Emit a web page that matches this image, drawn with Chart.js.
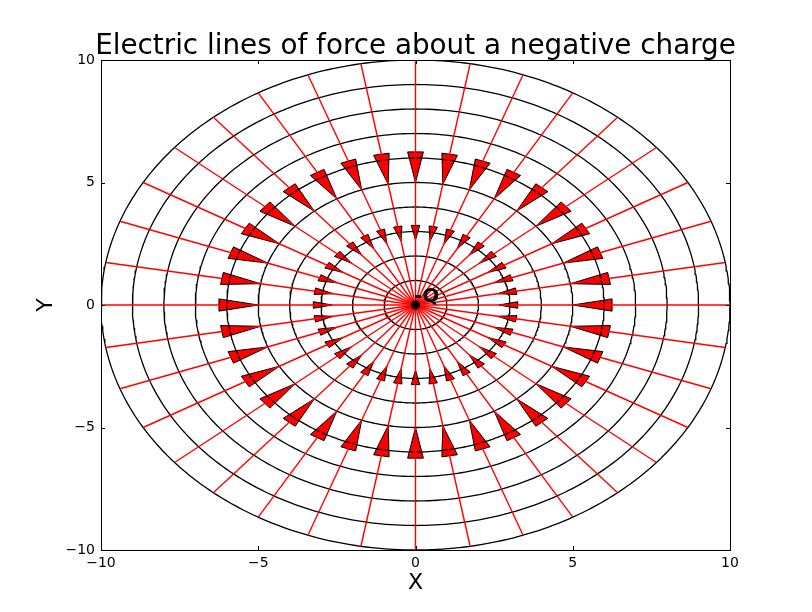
<!DOCTYPE html>
<html>
<head>
<meta charset="utf-8">
<script src="https://cdn.jsdelivr.net/npm/chart.js@4/dist/chart.umd.min.js"></script>
<style>
  body { margin: 0; background: #ffffff; }
  #myCanvas { display: block; }
</style>
</head>
<body>
<canvas id="myCanvas" width="812" height="612"></canvas>
<script>
// radii of the equipotential circles
var circleRadii = [1, 2, 3, 4, 5, 6, 7, 8, 9, 10];
// directions of the lines of force, in degrees
var lineAngles = [0, 10, 20, 30, 40, 50, 60, 70, 80, 90, 100, 110, 120, 130, 140, 150, 160, 170,
  180, 190, 200, 210, 220, 230, 240, 250, 260, 270, 280, 290, 300, 310, 320, 330, 340, 350];
// arrow heads: tip radius and head length (small ring, big ring)
var arrowTips = [2.65, 5.0];
var arrowLengths = [0.6, 1.25];
var arrowWidths = [0.27, 0.5];
var tickValues = [-10, -5, 0, 5, 10];
// lines of force run out to the last circle
var lineEnd = 10;

var fontName = "'DejaVu Sans', sans-serif";

function rad(deg) {
  return deg * Math.PI / 180;
}

var datasets = [];

// the charge itself
datasets.push({
  data: [{ x: 0, y: 0 }],
  pointRadius: 4.5,
  pointBackgroundColor: "#000000",
  pointBorderWidth: 0,
  showLine: false,
  order: 0
});

// lines of force
for (var i = 0; i < lineAngles.length; i++) {
  var a = rad(lineAngles[i]);
  datasets.push({
    data: [{ x: 0, y: 0 }, { x: lineEnd * Math.cos(a), y: lineEnd * Math.sin(a) }],
    borderColor: "#ff0000",
    borderWidth: 1.4,
    pointRadius: 0,
    showLine: true,
    order: 1
  });
}

// circles
for (var j = 0; j < circleRadii.length; j++) {
  var pts = [];
  for (var d = 0; d <= 360; d += 1) {
    pts.push({ x: circleRadii[j] * Math.cos(rad(d)), y: circleRadii[j] * Math.sin(rad(d)) });
  }
  datasets.push({
    data: pts,
    borderColor: "#000000",
    borderWidth: 1.3,
    pointRadius: 0,
    showLine: true,
    tension: 0,
    order: 2
  });
}

var arrowPlugin = {
  id: "arrows",
  beforeDatasetsDraw: function (chart) {
    var ctx = chart.ctx;
    var xs = chart.scales.x;
    var ys = chart.scales.y;
    ctx.save();
    ctx.fillStyle = "#ff0000";
    ctx.strokeStyle = "#000000";
    ctx.lineWidth = 1;
    ctx.lineJoin = "miter";
    for (var k = 0; k < arrowTips.length; k++) {
      for (var i = 0; i < lineAngles.length; i++) {
        var a = rad(lineAngles[i]);
        var c = Math.cos(a), s = Math.sin(a);
        var tip = arrowTips[k];
        var base = tip + arrowLengths[k];
        var hw = arrowWidths[k] / 2;
        ctx.beginPath();
        ctx.moveTo(xs.getPixelForValue(tip * c), ys.getPixelForValue(tip * s));
        ctx.lineTo(xs.getPixelForValue(base * c - hw * s), ys.getPixelForValue(base * s + hw * c));
        ctx.lineTo(xs.getPixelForValue(base * c + hw * s), ys.getPixelForValue(base * s - hw * c));
        ctx.closePath();
        ctx.fill();
        ctx.stroke();
      }
    }
    ctx.restore();
  },
  afterDraw: function (chart) {
    var ctx = chart.ctx;
    var area = chart.chartArea;
    var xs = chart.scales.x;
    var ys = chart.scales.y;
    ctx.save();

    //frame
    ctx.strokeStyle = "#000000";
    ctx.lineWidth = 1;
    ctx.strokeRect(Math.round(area.left) + 0.5, Math.round(area.top) + 0.5,
      Math.round(area.right - area.left), Math.round(area.bottom - area.top));

    //inward ticks on all four sides
    ctx.beginPath();
    for (var i = 0; i < tickValues.length; i++) {
      var px = Math.round(xs.getPixelForValue(tickValues[i])) + 0.5;
      var py = Math.round(ys.getPixelForValue(tickValues[i])) + 0.5;
      ctx.moveTo(px, area.bottom); ctx.lineTo(px, area.bottom - 4);
      ctx.moveTo(px, area.top); ctx.lineTo(px, area.top + 4);
      ctx.moveTo(area.left, py); ctx.lineTo(area.left + 4, py);
      ctx.moveTo(area.right, py); ctx.lineTo(area.right - 4, py);
    }
    ctx.stroke();

    //charge label
    ctx.fillStyle = "#000000";
    ctx.font = "bold 20px " + fontName;
    ctx.textAlign = "left";
    ctx.textBaseline = "alphabetic";
    ctx.fillText("-Q", xs.getPixelForValue(-0.05), ys.getPixelForValue(0.12));

    //title
    ctx.font = "27.8px " + fontName;
    ctx.textAlign = "center";
    ctx.fillText("Electric lines of force about a negative charge", (area.left + area.right) / 2, 54);
    ctx.restore();
  }
};

function tickLabel(value) {
  return String(value).replace("-", "\u2212");
}

var chart = new Chart(document.getElementById("myCanvas"), {
  type: "scatter",
  data: { datasets: datasets },
  options: {
    responsive: false,
    animation: false,
    devicePixelRatio: 1,
    layout: { padding: { top: 60, right: 82, left: 0, bottom: 0 } },
    plugins: {
      legend: { display: false },
      tooltip: { enabled: false },
      title: { display: false }
    },
    scales: {
      x: {
        type: "linear",
        min: -10,
        max: 10,
        grid: { display: false, drawTicks: false },
        border: { display: false },
        ticks: {
          stepSize: 5,
          padding: 5,
          color: "#000000",
          font: { family: fontName, size: 14 },
          maxRotation: 0,
          callback: tickLabel
        },
        title: {
          display: true,
          text: "X",
          color: "#000000",
          font: { family: fontName, size: 22 },
          padding: { top: 0, bottom: 16 }
        },
        afterFit: function (scale) { scale.height = 62; }
      },
      y: {
        type: "linear",
        min: -10,
        max: 10,
        grid: { display: false, drawTicks: false },
        border: { display: false },
        ticks: {
          stepSize: 5,
          padding: 6,
          color: "#000000",
          font: { family: fontName, size: 14 },
          callback: tickLabel
        },
        title: {
          display: true,
          text: "Y",
          color: "#000000",
          font: { family: fontName, size: 22 },
          padding: { top: 33, bottom: 0 }
        },
        afterFit: function (scale) { scale.width = 101; }
      }
    }
  },
  plugins: [arrowPlugin]
});
</script>
</body>
</html>
